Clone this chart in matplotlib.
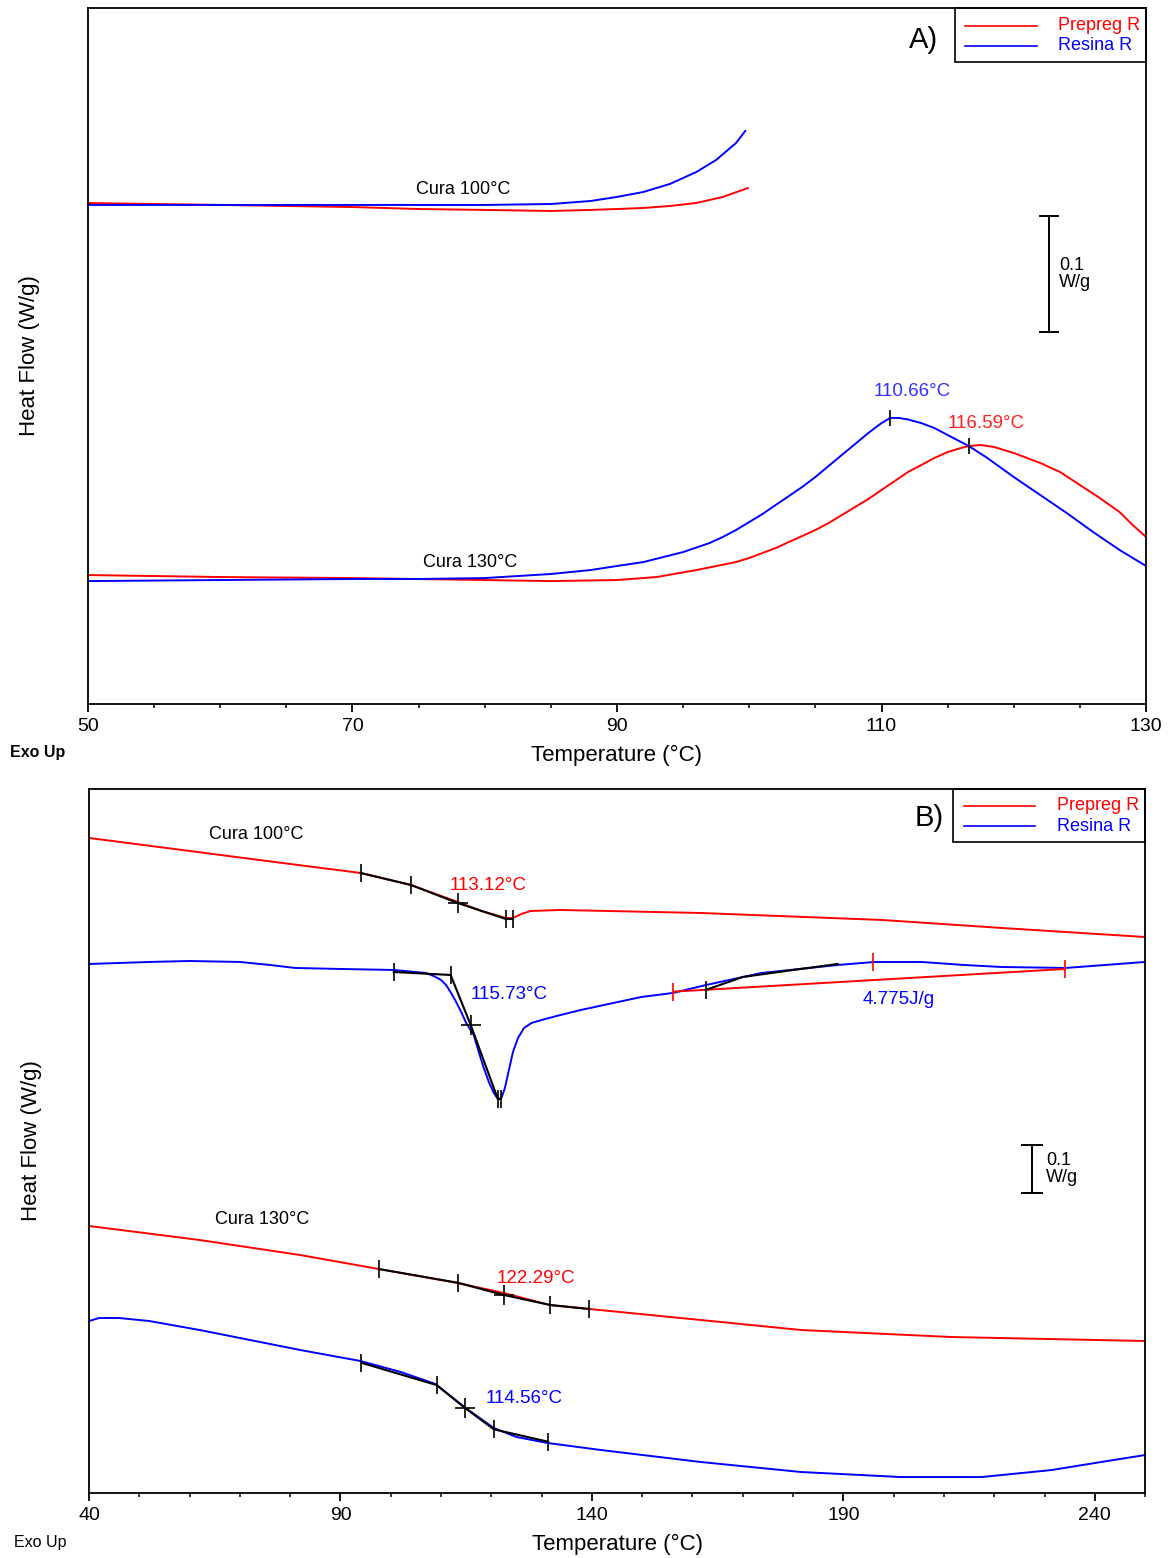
import matplotlib
matplotlib.use('Agg')
import matplotlib.pyplot as plt
from matplotlib.ticker import MultipleLocator
import matplotlib.transforms as mtransforms

plt.rcParams['font.family'] = ['Liberation Sans', 'DejaVu Sans']

RED = '#ff0000'
BLUE = '#0000ff'

# ---------------- A) data (temperature in C, heat flow in W/g, offset) ----------------
a_ticks = [50, 70, 90, 110, 130]
a_blue100_t = [50, 60, 70, 80, 85, 88, 90, 92, 94, 96, 97.5, 99, 99.7]
a_blue100_y = [0.4302, 0.4302, 0.4302, 0.4302, 0.4310, 0.4336, 0.4371, 0.4414, 0.4483,
               0.4586, 0.4690, 0.4836, 0.4940]
a_red100_t = [50, 55, 60, 65, 70, 75, 80, 85, 88, 90, 92, 94, 96, 98, 99.9]
a_red100_y = [0.4319, 0.4310, 0.4302, 0.4293, 0.4284, 0.4267, 0.4259, 0.4250, 0.4259,
              0.4267, 0.4276, 0.4293, 0.4319, 0.4371, 0.4448]
a_blue130_t = [50, 60, 70, 75, 80, 85, 88, 90, 92, 95, 97, 98, 99, 100, 101, 102, 103,
               104, 105, 106, 107, 108, 109, 110, 110.66, 111.3, 112, 113, 114, 115,
               116.6, 118, 120, 122, 124, 126, 128, 130]
a_blue130_y = [0.1060, 0.1069, 0.1078, 0.1078, 0.1086, 0.1121, 0.1155, 0.1190, 0.1224,
               0.1310, 0.1388, 0.1440, 0.1500, 0.1569, 0.1638, 0.1716, 0.1793, 0.1871,
               0.1957, 0.2052, 0.2147, 0.2241, 0.2336, 0.2422, 0.2466, 0.2466, 0.2453,
               0.2422, 0.2379, 0.2319, 0.2224, 0.2121, 0.1957, 0.1802, 0.1647, 0.1483,
               0.1328, 0.1190]
a_red130_t = [50, 60, 70, 80, 85, 90, 93, 96, 99, 100, 101, 102, 103, 104, 105, 106, 107,
              108, 109, 110, 111, 112, 113, 114, 115, 116, 116.59, 117.5, 118.5, 120, 121,
              122, 123.5, 125, 126.5, 128, 129, 130]
a_red130_y = [0.1112, 0.1095, 0.1086, 0.1069, 0.1060, 0.1069, 0.1095, 0.1155, 0.1224,
              0.1259, 0.1302, 0.1345, 0.1397, 0.1448, 0.1500, 0.1560, 0.1629, 0.1698,
              0.1767, 0.1845, 0.1922, 0.2000, 0.2060, 0.2121, 0.2172, 0.2207, 0.2224,
              0.2233, 0.2216, 0.2164, 0.2121, 0.2078, 0.2000, 0.1888, 0.1776, 0.1655,
              0.1543, 0.1440]
a_peak_blue = (110.66, 0.2466)
a_peak_red = (116.59, 0.2224)

# ---------------- B) data ----------------
b_ticks = [40, 90, 140, 190, 240]
b_red100_t = [40, 60, 80, 94, 104, 113.3, 118, 122.9, 124.3, 126, 127.8, 133.8, 161.7,
              197.6, 221.5, 250]
b_red100_y = [1.3646, 1.3375, 1.3104, 1.2917, 1.2667, 1.2313, 1.2125, 1.1979, 1.1979,
              1.2063, 1.2125, 1.2146, 1.2083, 1.1938, 1.1771, 1.1583]
b_red100_tan_t = [94, 104, 113.3, 122.9, 124.3]
b_red100_tan_y = [1.2917, 1.2667, 1.2292, 1.1958, 1.1958]

b_blue100_t = [40, 52, 60, 70, 76, 81, 90, 100.6, 107, 108.5, 110, 111, 112, 113, 114,
               115, 116.5, 117.5, 118.5, 119.5, 120.5, 121.3, 122, 122.7, 123.5, 124.3,
               125.3, 126.5, 128, 130, 133, 137.8, 149.8, 156.1, 162.7, 173.7, 188.9,
               196.2, 205.5, 214, 221.5, 234.2, 250]
b_blue100_y = [1.1021, 1.1063, 1.1083, 1.1063, 1.1000, 1.0938, 1.0917, 1.0896, 1.0833,
               1.0771, 1.0688, 1.0583, 1.0417, 1.0229, 1.0021, 0.9792, 0.9542, 0.9188,
               0.8854, 0.8563, 0.8333, 0.8208, 0.8229, 0.8438, 0.8813, 0.9188, 0.9479,
               0.9688, 0.9792, 0.9854, 0.9938, 1.0063, 1.0333, 1.0417, 1.0583, 1.0833,
               1.1000, 1.1063, 1.1063, 1.1000, 1.0958, 1.0938, 1.1063]
b_blue100_tan_t = [100.6, 111.9, 115.9, 121.3, 121.9]
b_blue100_tan_y = [1.0854, 1.0792, 0.9750, 0.8208, 0.8208]
b_blue100_int_t = [162.6, 170, 180, 188.9]
b_blue100_int_y = [1.0479, 1.0750, 1.0896, 1.1021]
b_base_t = [156.1, 234.1]
b_base_y = [1.0444, 1.0917]
b_base_mid = (195.9, 1.1069)

b_red130_t = [40, 62, 82, 97.6, 113.3, 122.5, 131.6, 139.6, 161.7, 181.6, 211.5, 250]
b_red130_y = [0.5563, 0.5271, 0.4958, 0.4667, 0.4375, 0.4167, 0.3917, 0.3833, 0.3604,
              0.3396, 0.3250, 0.3167]
b_red130_tan_t = [97.6, 113.3, 122.5, 131.7, 139.5]
b_red130_tan_y = [0.4667, 0.4381, 0.4125, 0.3917, 0.3833]

b_blue130_t = [40, 42, 46, 52, 62, 72, 82, 94, 102, 108.9, 114.9, 120.5, 125, 131.2,
               141.8, 161.7, 181.6, 201.5, 217.5, 231.4, 240, 250]
b_blue130_y = [0.3583, 0.3646, 0.3646, 0.3583, 0.3396, 0.3188, 0.2979, 0.2750, 0.2521,
               0.2271, 0.1771, 0.1354, 0.1167, 0.1042, 0.0896, 0.0646, 0.0438, 0.0333,
               0.0333, 0.0479, 0.0625, 0.0792]
b_blue130_tan_t = [94.1, 109.1, 114.7, 120.5, 131.3]
b_blue130_tan_y = [0.2715, 0.2250, 0.1777, 0.1327, 0.1069]


def style_axes(ax, xmin, xmax, ticks, minor, ymax):
    ax.set_xlim(xmin, xmax)
    ax.set_ylim(0, ymax)
    ax.set_xticks(ticks)
    ax.xaxis.set_minor_locator(MultipleLocator(minor))
    ax.set_yticks([])
    ax.tick_params(axis='x', which='major', direction='out', length=6, width=1.3,
                   labelsize=14, pad=4)
    ax.tick_params(axis='x', which='minor', direction='out', length=3, width=1.1)
    for s in ax.spines.values():
        s.set_linewidth(1.3)
    ax.set_xlabel('Temperature (°C)', fontsize=16)
    ax.set_ylabel('Heat Flow (W/g)', fontsize=16)


def legend_box(ax, x0, yb, ly1, ly2, lx0, lx1, tx):
    ax.add_patch(plt.Rectangle((x0, yb), 1 - x0, 1 - yb, transform=ax.transAxes,
                               fill=False, edgecolor='black', lw=1.2, clip_on=False))
    ax.plot([lx0, lx1], [ly1, ly1], color=RED, lw=1.2, transform=ax.transAxes)
    ax.plot([lx0, lx1], [ly2, ly2], color=BLUE, lw=1.2, transform=ax.transAxes)
    ax.text(tx, ly1, 'Prepreg R', color=RED, fontsize=13, va='center',
            transform=ax.transAxes)
    ax.text(tx, ly2, 'Resina R', color=BLUE, fontsize=13, va='center',
            transform=ax.transAxes)


def scale_bar(ax, x, x0, x1, y0, tx):
    tr = mtransforms.blended_transform_factory(ax.transAxes, ax.transData)
    ax.plot([x, x], [y0, y0 + 0.1], color='black', lw=1.4, transform=tr)
    ax.plot([x0, x1], [y0, y0], color='black', lw=1.4, transform=tr)
    ax.plot([x0, x1], [y0 + 0.1, y0 + 0.1], color='black', lw=1.4, transform=tr)
    ax.text(tx, y0 + 0.05, '0.1\nW/g', fontsize=13, va='center', ha='left',
            linespacing=1.05, transform=tr)


fig = plt.figure(figsize=(11.73, 15.58), dpi=100)

# ---------------- panel A ----------------
axA = fig.add_axes([0.0750, 0.5481, 0.9020, 0.4468])
axA.plot(a_red100_t, a_red100_y, color=RED, lw=1.4)
axA.plot(a_blue100_t, a_blue100_y, color=BLUE, lw=1.4)
axA.plot(a_red130_t, a_red130_y, color=RED, lw=1.4)
axA.plot(a_blue130_t, a_blue130_y, color=BLUE, lw=1.4)
axA.plot(*a_peak_blue, marker='|', ms=12, mew=1.2, color='black')
axA.plot(*a_peak_red, marker='|', ms=12, mew=1.2, color='black')
axA.text(112.3, 0.2698, '110.66°C', color='#3030ff', fontsize=13.5, ha='center', va='center')
axA.text(117.9, 0.2422, '116.59°C', color='#ff2020', fontsize=13.5, ha='center', va='center')
axA.text(78.4, 0.4431, 'Cura 100°C', fontsize=13, ha='center', va='center')
axA.text(78.9, 0.1224, 'Cura 130°C', fontsize=13, ha='center', va='center')
style_axes(axA, 50, 130, a_ticks, 5, 0.6)
axA.xaxis.set_label_coords(0.5, -0.058)
axA.yaxis.set_label_coords(-0.045, 0.5)
axA.text(0.790, 0.954, 'A)', fontsize=21, ha='center', va='center', transform=axA.transAxes)
legend_box(axA, 0.8195, 0.9224, 0.9741, 0.9454, 0.8289, 0.8970, 0.9168)
scale_bar(axA, 0.908, 0.8998, 0.9168, 0.3207, 0.9178)
fig.text(38 / 1173, 1 - 753 / 1558, 'Exo Up', fontsize=11.5, ha='center', va='center',
         fontweight='bold')

# ---------------- panel B ----------------
axB = fig.add_axes([0.0759, 0.0417, 0.9003, 0.4519])
axB.plot(b_red100_t, b_red100_y, color=RED, lw=1.4)
axB.plot(b_blue100_t, b_blue100_y, color=BLUE, lw=1.4)
axB.plot(b_red130_t, b_red130_y, color=RED, lw=1.4)
axB.plot(b_blue130_t, b_blue130_y, color=BLUE, lw=1.4)

# onset tangents
for tt, yy in [(b_red100_tan_t, b_red100_tan_y), (b_blue100_tan_t, b_blue100_tan_y),
               (b_red130_tan_t, b_red130_tan_y), (b_blue130_tan_t, b_blue130_tan_y)]:
    axB.plot(tt, yy, color='black', lw=1.5)
    for i in [0, 1, 3, 4]:
        axB.plot(tt[i], yy[i], marker='|', ms=13, mew=1.2, color='black')
    axB.plot(tt[2], yy[2], marker='+', ms=15, mew=1.2, color='black')

# integration of the exotherm
axB.plot(b_base_t, b_base_y, color=RED, lw=1.4)
axB.plot(b_blue100_int_t, b_blue100_int_y, color='black', lw=1.5)
axB.plot(b_blue100_int_t[0], b_blue100_int_y[0], marker='|', ms=13, mew=1.2, color='black')
for t, y in [(b_base_t[0], b_base_y[0]), b_base_mid, (b_base_t[1], b_base_y[1])]:
    axB.plot(t, y, marker='|', ms=13, mew=1.2, color=RED)

axB.text(119.3, 1.2646, '113.12°C', color=RED, fontsize=13.5, ha='center', va='center')
axB.text(123.5, 1.0375, '115.73°C', color=BLUE, fontsize=13.5, ha='center', va='center')
axB.text(201.0, 1.0271, '4.775J/g', color=BLUE, fontsize=13.5, ha='center', va='center')
axB.text(128.8, 0.4479, '122.29°C', color=RED, fontsize=13.5, ha='center', va='center')
axB.text(126.5, 0.1979, '114.56°C', color=BLUE, fontsize=13.5, ha='center', va='center')
axB.text(73.3, 1.3708, 'Cura 100°C', fontsize=13, ha='center', va='center')
axB.text(74.5, 0.5688, 'Cura 130°C', fontsize=13, ha='center', va='center')
style_axes(axB, 40, 250, b_ticks, 10, 704 / 480)
axB.xaxis.set_label_coords(0.5, -0.058)
axB.yaxis.set_label_coords(-0.0445, 0.5)
axB.text(0.796, 0.959, 'B)', fontsize=21, ha='center', va='center', transform=axB.transAxes)
legend_box(axB, 0.8182, 0.9247, 0.9759, 0.9474, 0.8286, 0.8958, 0.9167)
scale_bar(axB, 0.893, 0.8835, 0.9025, 0.625, 0.906)
fig.text(40 / 1173, 1 - 1542 / 1558, 'Exo Up', fontsize=11.5, ha='center', va='center')

fig.savefig('out.png', dpi=100)
